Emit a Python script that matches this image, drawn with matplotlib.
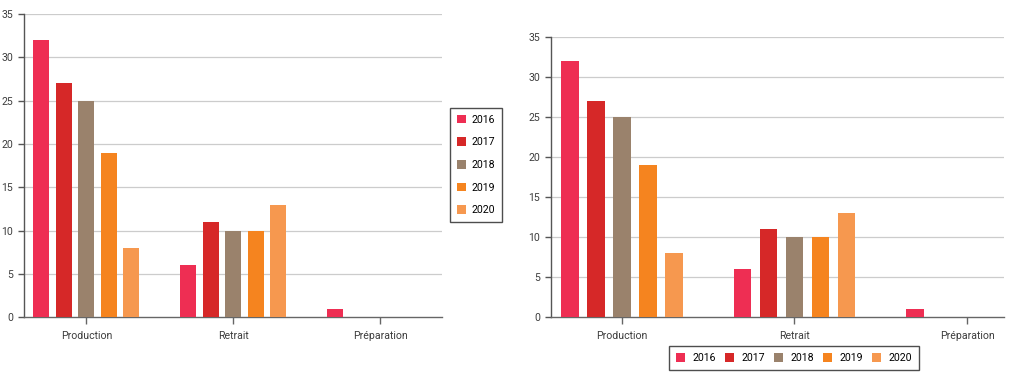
import matplotlib
matplotlib.use("Agg")
import matplotlib.pyplot as plt
import numpy as np
from matplotlib.patches import Patch

categories = ["Production", "Retrait", "Préparation"]
years = ["2016", "2017", "2018", "2019", "2020"]
values = {
    "2016": [32, 6, 1],
    "2017": [27, 11, 0],
    "2018": [25, 10, 0],
    "2019": [19, 10, 0],
    "2020": [8, 13, 0],
}
colors = ["#EE2E53", "#D62828", "#9A826C", "#F5841F", "#F6984F"]
yticks = [0, 5, 10, 15, 20, 25, 30, 35]

plt.rcParams['font.family'] = ['Roboto', 'DejaVu Sans']
FS = 7.6
W, H = 1011, 376
fig = plt.figure(figsize=(W / 100, H / 100), dpi=100)

def px_axes(x0, y0, x1, y1):
    return fig.add_axes([x0 / W, (H - y1) / H, (x1 - x0) / W, (y1 - y0) / H])

def draw(ax, width, step, xlim):
    x = np.arange(len(categories))
    for i, (yr, c) in enumerate(zip(years, colors)):
        v = np.array(values[yr], dtype=float)
        ax.bar(x + (i - 2) * step, v, width=width, color=c, linewidth=0, zorder=3)
    ax.set_ylim(0, 35)
    ax.set_xlim(*xlim)
    ax.set_yticks(yticks)
    ax.set_xticks(x)
    ax.set_xticklabels(categories)
    for s in ["top", "right"]:
        ax.spines[s].set_visible(False)
    ax.spines["left"].set_color("#555555")
    ax.spines["bottom"].set_color("#666666")
    ax.spines["left"].set_linewidth(1)
    ax.spines["bottom"].set_linewidth(1)
    ax.tick_params(axis="y", length=4, width=1, color="#555555", labelsize=FS,
                   labelcolor="#3d3d3d", pad=4)
    ax.tick_params(axis="x", length=5, width=1, color="#666666", labelsize=FS,
                   labelcolor="#3d3d3d", pad=5)
    for t in yticks[1:]:
        ax.axhline(t, color="#cccccc", linewidth=0.9, zorder=1)

ax1 = px_axes(24, 14, 442, 317.3)
draw(ax1, 0.109, 0.153, (-0.425, 2.42))
ax2 = px_axes(551, 36.7, 1004, 316.7)
draw(ax2, 0.104, 0.1506, (-0.411, 2.214))

handles = [Patch(facecolor=c, edgecolor="none", label=y) for y, c in zip(years, colors)]

leg1 = fig.legend(handles=handles, loc="center", ncol=1,
                  bbox_to_anchor=(476 / W, 1 - 165 / H), fontsize=FS,
                  frameon=True, fancybox=False, edgecolor="#222222",
                  handlelength=0.85, handleheight=0.85, handletextpad=0.6,
                  labelspacing=1.2, borderpad=0.6, borderaxespad=0)
leg1.get_frame().set_linewidth(1)

leg2 = fig.legend(handles=handles, loc="center", ncol=5,
                  bbox_to_anchor=(794 / W, 1 - 358 / H), fontsize=FS,
                  frameon=True, fancybox=False, edgecolor="#222222",
                  handlelength=0.85, handleheight=0.85, handletextpad=0.75,
                  columnspacing=0.8, borderpad=0.65, borderaxespad=0)
leg2.get_frame().set_linewidth(1)

fig.savefig("out.png", dpi=100)
